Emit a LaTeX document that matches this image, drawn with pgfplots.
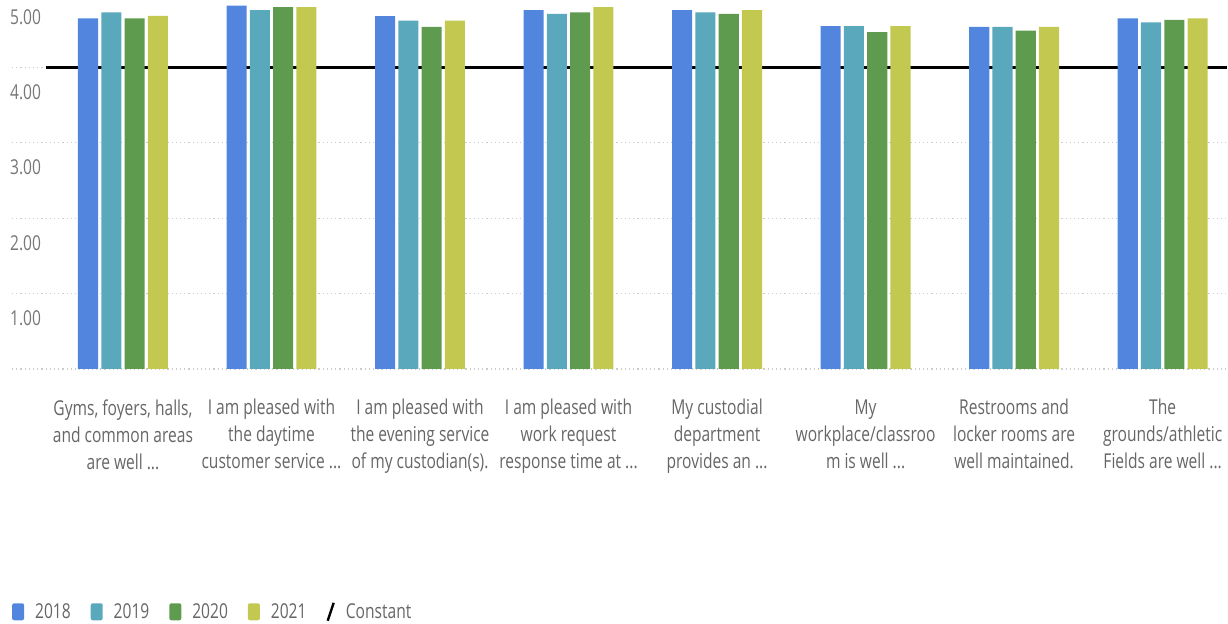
\documentclass[border=0pt]{standalone}
\usepackage{fontspec}
\setmainfont{Open Sans}[FakeStretch=0.76]
\usepackage{pgfplots}
\pgfplotsset{compat=1.18}
\definecolor{c18}{HTML}{5285DD}
\definecolor{c19}{HTML}{5AA8BC}
\definecolor{c20}{HTML}{5E9B4F}
\definecolor{c21}{HTML}{C2C850}
\definecolor{txt}{HTML}{666666}
\definecolor{ytxt}{HTML}{777777}
\newcommand\dd{...}
\begin{document}
\begin{tikzpicture}
\begin{axis}[
  at={(0pt,0pt)}, anchor=south west,
  scale only axis, width=1216pt, height=369pt,
  xmin=-0.747, xmax=7.436, ymin=0, ymax=4.894,
  axis line style={draw=none},
  major tick length=0pt, minor tick length=0pt,
  /pgf/number format/assume math mode=true,
  ytick={0.67,1.67,2.67,3.67,4.67},
  yticklabels={1.00,2.00,3.00,4.00,5.00},
  yticklabel style={anchor=west, inner sep=0pt, xshift=-2pt, text=ytxt, font=\fontsize{20.5pt}{24pt}\selectfont},
  minor ytick={0,1,2,3,4},
  yminorgrids,
  minor grid style={gray!40, line width=1.2pt, dash pattern=on 1.2pt off 3pt},
  xtick={0,1,2,3,4,5,6,7},
  xticklabels={
    {Gyms, foyers, halls,\\and common areas\\are well \dd},
    {I am pleased with\\the daytime\\customer service \dd},
    {I am pleased with\\the evening service\\of my custodian(s).},
    {I am pleased with\\work request\\response time at \dd},
    {My custodial\\department\\provides an \dd},
    {My\\workplace/classroo\\m is well \dd},
    {Restrooms and\\locker rooms are\\well maintained.},
    {The\\grounds/athletic\\Fields are well \dd}},
  xticklabel style={align=center, text=txt, anchor=north, yshift=-27pt, font=\fontsize{20.5pt}{27pt}\selectfont},
  ybar, bar width=0.1353,
  legend columns=5,
  legend style={at={(rel axis cs:-0.0025,-0.6585)}, anchor=west, draw=none, fill=none,
    font=\fontsize{20.5pt}{24pt}\selectfont, text=txt,
    /tikz/every odd column/.append style={column sep=9pt},
    /tikz/every even column/.append style={column sep=18pt}},
  legend image code/.code={\draw[#1, draw=none, rounded corners=2pt] (0pt,-8.5pt) rectangle (12pt,8.5pt);},
]
\addplot[sharp plot, black, line width=2.4pt, forget plot] coordinates {(-0.52,4) (7.436,4)};
\addplot[fill=c18, draw=none, bar shift=-0.235] coordinates {(0,4.65) (1,4.82) (2,4.68) (3,4.76) (4,4.76) (5,4.55) (6,4.54) (7,4.65)};
\addlegendentry{2018}
\addplot[fill=c19, draw=none, bar shift=-0.0784] coordinates {(0,4.73) (1,4.76) (2,4.62) (3,4.71) (4,4.73) (5,4.55) (6,4.54) (7,4.60)};
\addlegendentry{2019}
\addplot[fill=c20, draw=none, bar shift=0.0784] coordinates {(0,4.65) (1,4.80) (2,4.54) (3,4.73) (4,4.71) (5,4.47) (6,4.49) (7,4.63)};
\addlegendentry{2020}
\addplot[fill=c21, draw=none, bar shift=0.235] coordinates {(0,4.685) (1,4.80) (2,4.62) (3,4.80) (4,4.76) (5,4.55) (6,4.54) (7,4.65)};
\addlegendentry{2021}
\addlegendimage{legend image code/.code={\draw[black, line width=2.4pt] (2pt,-9pt) -- (8pt,9pt);}}
\addlegendentry{Constant}
\end{axis}
\useasboundingbox (-12pt,-255pt) rectangle (1216pt,369pt);
\end{tikzpicture}
\end{document}
